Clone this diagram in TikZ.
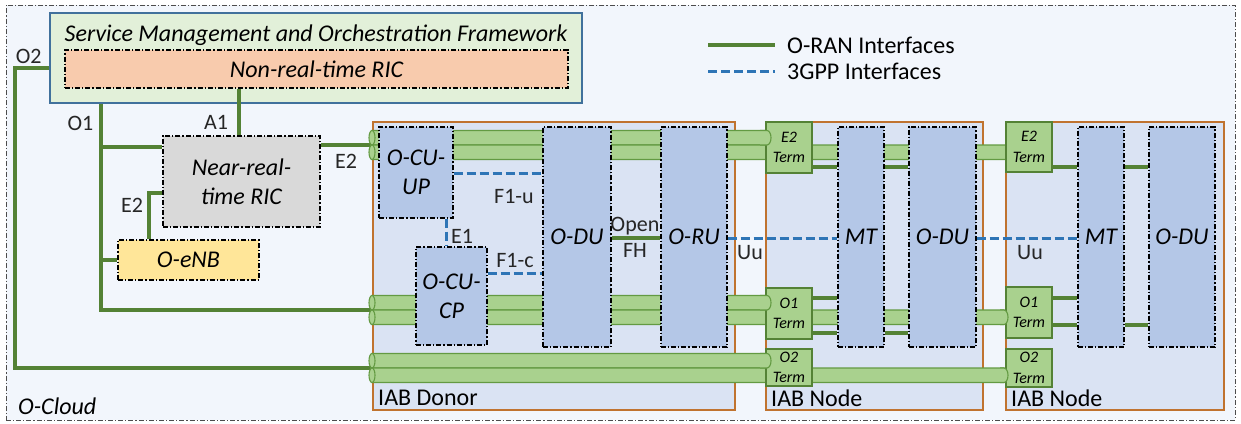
\documentclass[tikz,border=0pt]{standalone}
\usepackage{fontspec}
\setmainfont{Carlito}
\usepackage{tikz}

\definecolor{cloudfill}{HTML}{F2F6FC}
\definecolor{smofill}{HTML}{E2F0D9}
\definecolor{smoline}{HTML}{41719C}
\definecolor{nrtorange}{HTML}{F8CBAD}
\definecolor{ricgray}{HTML}{D9D9D9}
\definecolor{enbyellow}{HTML}{FFE699}
\definecolor{iabfill}{HTML}{DAE3F3}
\definecolor{iabline}{HTML}{C0732F}
\definecolor{modblue}{HTML}{B4C7E7}
\definecolor{oranline}{HTML}{548235}
\definecolor{tubegreen}{HTML}{A9D18E}
\definecolor{tubeline}{HTML}{639A42}
\definecolor{tgppblue}{HTML}{2E75B6}
\definecolor{lbltext}{HTML}{262626}

\tikzset{
  every node/.style={inner sep=0pt, font=\fontsize{24}{29}\selectfont},
  dashdot/.style={dash pattern=on 5pt off 2pt on 1.2pt off 2pt},
  cloudbox/.style={draw=black!70, line width=1pt, dashdot, fill=cloudfill},
  smobox/.style={draw=smoline, line width=1.5pt, fill=smofill},
  ricbox/.style={draw=black, line width=1.1pt, dashdot, align=center, font=\fontsize{24}{29}\selectfont\itshape},
  iabbox/.style={draw=iabline, line width=1.3pt, fill=iabfill},
  module/.style={draw=black, line width=1.1pt, dashdot, fill=modblue, align=center, minimum height=220pt, font=\fontsize{24}{29}\selectfont\itshape},
  term/.style={draw=oranline, line width=1.4pt, fill=tubegreen, align=center, minimum width=46pt, font=\fontsize{16}{20.5}\selectfont\itshape},
  tube/.style={fill=tubegreen, draw=tubeline, line width=1.1pt},
  oran/.style={draw=oranline, line width=3.1pt},
  tgpp/.style={draw=tgppblue, line width=3pt, dash pattern=on 9pt off 4pt},
  lbl/.style={text=lbltext, font=\fontsize{22}{26}\selectfont},
}

% band of a tube: x start, x where the round end begins, y top
\newcommand{\iabtube}[3]{%
  \draw[tube] (#1,#3) -- (#2,#3) arc[start angle=90, end angle=-90, x radius=4pt, y radius=7.25pt] -- (#1,#3+14.5) -- cycle;
  \draw[tube] (#1,#3+7.25) ellipse[x radius=3pt, y radius=7.25pt];
}
% round end of a tube, seen over a Term box
\newcommand{\iabtubecap}[3]{%
  \path[tube] (#1,#3) -- (#2,#3) arc[start angle=90, end angle=-90, x radius=4pt, y radius=7.25pt] -- (#1,#3+14.5);
}

\begin{document}
\begin{tikzpicture}[x=1pt, y=-1pt]
    \useasboundingbox (0,0) rectangle (1241,423);

    \coordinate (yE2) at (0,145);
    \coordinate (yO1) at (0,310);
    \coordinate (yO2) at (0,368);
    \coordinate (yFH) at (0,238);
    \coordinate (yF1u) at (0,173);
    \coordinate (yF1c) at (0,273);
    \coordinate (yT1) at (0,167);
    \coordinate (yT2) at (0,298);
    \coordinate (yT3) at (0,333);
    \coordinate (yT4) at (0,325);
    \coordinate (o2corner) at (15,68);
    \coordinate (o1x) at (101,147);
    \coordinate (a1x) at (239,0);
    \coordinate (e2l) at (149,193);
    \coordinate (e1x) at (446,0);
    \coordinate (legA) at (708,45);
    \coordinate (legB) at (708,71);

    % O-Cloud and SMO
    \node [cloudbox, minimum width=1229pt, minimum height=415pt] (cloud) at (620.5,212.5) {};
    \node [anchor=west, font=\fontsize{24}{29}\selectfont\itshape] (cloudlbl) at (18,406) {O-Cloud};
    \node [smobox, minimum width=532pt, minimum height=90pt] (smo) at (316,58) {};
    \node [font=\fontsize{24}{29}\selectfont\itshape] (smotitle) at (316,35) {Service Management and Orchestration Framework};
    \node [ricbox, fill=nrtorange, minimum width=503pt, minimum height=38pt] (nonrt) at (316.5,69) {Non-real-time RIC};
    \node [ricbox, fill=ricgray, minimum width=157pt, minimum height=91pt] (nearrt) at (241.5,181.5) {Near-real-\\time RIC};
    \node [ricbox, fill=enbyellow, minimum width=141pt, minimum height=40pt] (enb) at (188.5,260) {O-eNB};

    % legend
    \node [anchor=west] (legoran) at (787,45) {O-RAN Interfaces};
    \node [anchor=west] (leg3gpp) at (787,71) {3GPP Interfaces};
    \draw[oran] (legA) -- ([xshift=-12pt]legoran.west);
    \draw[tgpp] (legB) -- ([xshift=-12pt]leg3gpp.west);

    % IAB boxes
    \node [iabbox, minimum width=362pt, minimum height=288pt] (donor) at (554,266) {};
    \node [iabbox, minimum width=217pt, minimum height=288pt] (iab1) at (874.5,266) {};
    \node [iabbox, minimum width=218pt, minimum height=288pt] (iab2) at (1115,266) {};
    \node [anchor=west] (donorlbl) at (378,398) {IAB Donor};
    \node [anchor=west] (iab1lbl) at (771,398) {IAB Node};
    \node [anchor=west] (iab2lbl) at (1011,398) {IAB Node};

    % O-RAN interfaces outside
    \draw[oran] (smo.west |- o2corner) -- (o2corner) |- (donor.west |- yO2);
    \draw[oran] (smo.south -| o1x) |- (donor.west |- yO1);
    \draw[oran] (o1x) -- (nearrt.west |- o1x);
    \draw[oran] (o1x |- enb.west) -- (enb.west);
    \draw[oran] (nonrt.south -| a1x) -- (nearrt.north -| a1x);
    \draw[oran] (nearrt.west |- e2l) -| (enb.north -| e2l);
    \draw[oran] (nearrt.east |- yE2) -- (donor.west |- yE2);

    % tubes
    \iabtube{372}{767}{130.5}
    \iabtube{372}{1008}{145}
    \iabtube{372}{767}{295.5}
    \iabtube{372}{1004}{310}
    \iabtube{372}{767}{353.5}
    \iabtube{372}{1004}{368}

    % donor
    \node [module, minimum width=74pt, minimum height=91pt] (cuup) at (416,172.5) {O-CU-\\UP};
    \node [module, minimum width=71pt, minimum height=98pt] (cucp) at (451.5,296) {O-CU-\\CP};
    \node [module, minimum width=68pt] (du0) at (577,237) {O-DU};
    \node [module, minimum width=66pt] (ru) at (694,237) {O-RU};

    % IAB nodes
    \node [module, minimum width=46pt] (mt1) at (861,237) {MT};
    \node [module, minimum width=67pt] (du1) at (942.5,237) {O-DU};
    \node [module, minimum width=46pt] (mt2) at (1101,237) {MT};
    \node [module, minimum width=66pt] (du2) at (1182,237) {O-DU};

    \node [term, minimum height=51pt] (e2t1) at (789,147.5) {E2\\Term};
    \node [term, minimum height=51pt] (o1t1) at (789,313.5) {O1\\Term};
    \node [term, minimum height=37pt] (o2t1) at (789,367.5) {O2\\Term};
    \node [term, minimum height=50pt] (e2t2) at (1029,147) {E2\\Term};
    \node [term, minimum height=51pt] (o1t2) at (1029,312.5) {O1\\Term};
    \node [term, minimum height=38pt] (o2t2) at (1029,368) {O2\\Term};

    \iabtubecap{760}{767}{130.5}
    \iabtubecap{760}{767}{295.5}
    \iabtubecap{760}{767}{353.5}
    \iabtubecap{1000}{1004}{310}
    \iabtubecap{1000}{1004}{368}

    \draw[oran] (e2t1.east |- yT1) -- (mt1.west |- yT1);
    \draw[oran] (mt1.east |- yT1) -- (du1.west |- yT1);
    \draw[oran] (o1t1.east |- yT2) -- (mt1.west |- yT2);
    \draw[oran] (o1t1.east |- yT3) -- (mt1.west |- yT3);
    \draw[oran] (mt1.east |- yT3) -- (du1.west |- yT3);
    \draw[oran] (e2t2.east |- yT1) -- (mt2.west |- yT1);
    \draw[oran] (mt2.east |- yT1) -- (du2.west |- yT1);
    \draw[oran] (o1t2.east |- yT2) -- (mt2.west |- yT2);
    \draw[oran] (o1t2.east |- yT4) -- (mt2.west |- yT4);
    \draw[oran] (mt2.east |- yT4) -- (du2.west |- yT4);

    % 3GPP interfaces and fronthaul
    \draw[tgpp] (cuup.east |- yF1u) -- (du0.west |- yF1u);
    \draw[tgpp] (cucp.east |- yF1c) -- (du0.west |- yF1c);
    \draw[tgpp] (cuup.south -| e1x) -- (cucp.north -| e1x);
    \draw[oran] (du0.east |- yFH) -- (ru.west |- yFH);
    \draw[tgpp] (ru.east |- yFH) -- (mt1.west |- yFH);
    \draw[tgpp] (du1.east |- yFH) -- (mt2.west |- yFH);

    % labels
    \node [lbl] (lo2) at (28.7,56) {O2};
    \node [lbl] (lo1) at (80.5,123) {O1};
    \node [lbl] (la1) at (216,122) {A1};
    \node [lbl] (le2a) at (346,161) {E2};
    \node [lbl] (le2b) at (132,205) {E2};
    \node [lbl] (lf1u) at (514,196) {F1-u};
    \node [lbl] (lf1c) at (515,260) {F1-c};
    \node [lbl] (le1) at (462,236) {E1};
    \node [lbl] (lopen) at (635,226) {Open};
    \node [lbl] (lfh) at (635,250) {FH};
    \node [lbl] (luu1) at (750,253) {Uu};
    \node [lbl] (luu2) at (1030,253) {Uu};
\end{tikzpicture}
\end{document}
